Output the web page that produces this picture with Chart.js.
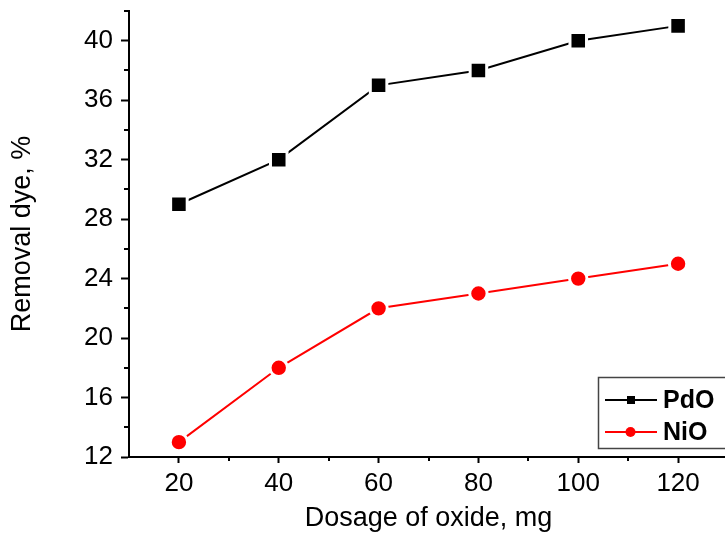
<!DOCTYPE html>
<html>
<head>
<meta charset="utf-8">
<script src="https://cdn.jsdelivr.net/npm/chart.js@4/dist/chart.umd.min.js"></script>
<style>
  html, body { margin: 0; padding: 0; background: #fff; overflow: hidden; }
  #wrap { width: 730px; height: 536px; }
</style>
</head>
<body>
<div id="wrap"><canvas id="c" width="730" height="536"></canvas></div>
<script>
const dosage = [20, 40, 60, 80, 100, 120];
const pdoRemoval = [29, 32, 37, 38, 40, 41];
const nioRemoval = [13, 18, 22, 23, 24, 25];
const xTickValues = [20, 40, 60, 80, 100, 120];
const yTickValues = [12, 16, 20, 24, 28, 32, 36, 40];
const xMinorValues = [30, 50, 70, 90, 110, 130];
const yMinorValues = [14, 18, 22, 26, 30, 34, 38, 42];

const FONT = '"Liberation Sans", Arial, sans-serif';

const minorTicks = {
  id: 'minorTicks',
  afterDraw(chart) {
    const ctx = chart.ctx;
    const xs = chart.scales.x, ys = chart.scales.y;
    const ca = chart.chartArea;
    ctx.save();
    ctx.strokeStyle = '#000';
    ctx.lineWidth = 2;
    ctx.beginPath();
    xMinorValues.forEach(v => {
      const px = Math.round(xs.getPixelForValue(v));
      ctx.moveTo(px, ca.bottom);
      ctx.lineTo(px, ca.bottom + 4);
    });
    yMinorValues.forEach(v => {
      const py = Math.round(ys.getPixelForValue(v));
      ctx.moveTo(ca.left, py);
      ctx.lineTo(ca.left - 5, py);
    });
    ctx.stroke();
    ctx.restore();
  }
};

const customLegend = {
  id: 'customLegend',
  afterDraw(chart) {
    const ctx = chart.ctx;
    ctx.save();
    ctx.strokeStyle = '#444';
    ctx.lineWidth = 1.5;
    ctx.strokeRect(598.5, 377.5, 140, 71);
    const rows = [400, 432];
    chart.data.datasets.forEach((ds, i) => {
      const y = rows[i];
      ctx.strokeStyle = ds.borderColor;
      ctx.lineWidth = 2;
      ctx.beginPath();
      ctx.moveTo(605, y);
      ctx.lineTo(657, y);
      ctx.stroke();
      ctx.fillStyle = ds.borderColor;
      if (ds.pointStyle === 'rect') {
        ctx.fillRect(627, y - 4, 8, 8);
      } else {
        ctx.beginPath();
        ctx.arc(630.5, y, 5, 0, Math.PI * 2);
        ctx.fill();
      }
      ctx.fillStyle = '#000';
      ctx.font = 'bold 25px ' + FONT;
      ctx.textBaseline = 'middle';
      ctx.textAlign = 'left';
      ctx.fillText(ds.label, 663, y + 1);
    });
    ctx.restore();
  }
};

function noPad(s) {
  s.paddingTop = 0; s.paddingBottom = 0; s.paddingLeft = 0; s.paddingRight = 0;
}

new Chart(document.getElementById('c'), {
  type: 'line',
  data: {
    datasets: [
      {
        label: 'PdO',
        data: dosage.map((x, i) => ({ x: x, y: pdoRemoval[i] })),
        borderColor: '#000000',
        backgroundColor: '#000000',
        borderWidth: 2,
        pointStyle: 'rect',
        pointRadius: 11.7,
        pointBackgroundColor: '#000000',
        pointBorderColor: '#ffffff',
        pointBorderWidth: 3,
        tension: 0,
        clip: false
      },
      {
        label: 'NiO',
        data: dosage.map((x, i) => ({ x: x, y: nioRemoval[i] })),
        borderColor: '#ff0000',
        backgroundColor: '#ff0000',
        borderWidth: 2,
        pointStyle: 'circle',
        pointRadius: 8.7,
        pointBackgroundColor: '#ff0000',
        pointBorderColor: '#ffffff',
        pointBorderWidth: 3,
        tension: 0,
        clip: false
      }
    ]
  },
  options: {
    responsive: false,
    animation: false,
    layout: { autoPadding: false, padding: { top: 11, right: 2, left: 0, bottom: 0 } },
    plugins: { legend: { display: false }, tooltip: { enabled: false } },
    scales: {
      x: {
        type: 'linear',
        min: 10,
        max: 130,
        afterBuildTicks: s => { s.ticks = xTickValues.map(v => ({ value: v })); },
        afterFit: s => { s.height = 79; noPad(s); },
        border: { display: true, color: '#000', width: 2 },
        grid: { display: true, drawOnChartArea: false, drawTicks: true, tickLength: 6, color: '#000', tickWidth: 2 },
        ticks: { color: '#000', font: { family: FONT, size: 26 }, padding: 5, maxRotation: 0 },
        title: { display: true, text: 'Dosage of oxide, mg', color: '#000', font: { family: FONT, size: 27, lineHeight: 1 }, padding: { top: 0, bottom: 4 } }
      },
      y: {
        type: 'linear',
        min: 12,
        max: 42,
        afterBuildTicks: s => { s.ticks = yTickValues.map(v => ({ value: v })); },
        afterFit: s => { s.width = 129; noPad(s); },
        border: { display: true, color: '#000', width: 2 },
        grid: { display: true, drawOnChartArea: false, drawTicks: true, tickLength: 8, color: '#000', tickWidth: 2 },
        ticks: { color: '#000', font: { family: FONT, size: 26 }, padding: 8 },
        title: { display: true, text: 'Removal dye, %', color: '#000', font: { family: FONT, size: 27, lineHeight: 1 }, padding: { top: 9, bottom: 0 } }
      }
    }
  },
  plugins: [minorTicks, customLegend]
});
</script>
</body>
</html>
